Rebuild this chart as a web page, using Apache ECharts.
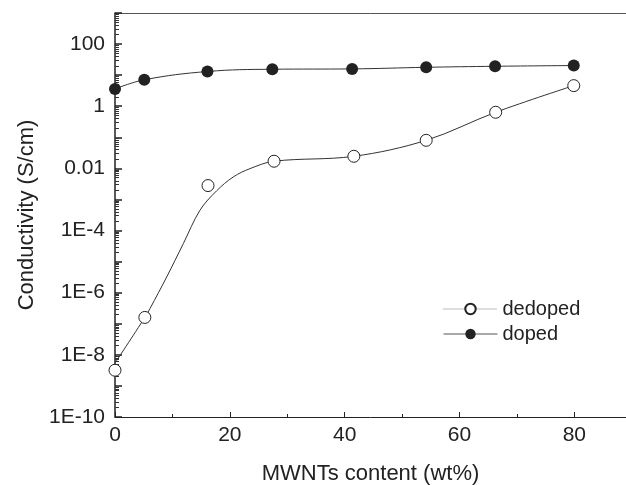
<!DOCTYPE html>
<html>
<head>
<meta charset="utf-8">
<script src="https://cdn.jsdelivr.net/npm/echarts@6/dist/echarts.min.js"></script>
<style>
  html, body { margin: 0; padding: 0; background: #fff; }
  #main { width: 626px; height: 485px; }
</style>
</head>
<body>
<div id="main"></div>
<script>
// MWNTs content (wt%) and conductivity (S/cm)
const dedopedX = [0, 5.2, 16.2, 27.7, 41.6, 54.2, 66.3, 79.9];
const dedopedY = [3.2e-9, 1.6e-7, 2.8e-3, 0.017, 0.0245, 0.08, 0.64, 4.6];
const dopedX = [0, 5.1, 16.1, 27.4, 41.3, 54.2, 66.2, 79.9];
const dopedY = [3.6, 7.1, 13.1, 15.5, 15.9, 17.9, 19.3, 20.4];
// fitted curve drawn through the dedoped points
const fitX = [0, 5.2, 6.1, 9.0, 11.9, 14.8, 17.7, 20.6, 23.5, 27.7, 41.6, 54.2, 66.3, 79.9];
const fitY = [5.4e-9, 1.6e-7, 3.1e-7, 3.2e-6, 3.8e-5, 4.5e-4, 1.9e-3, 5.3e-3, 9.8e-3, 0.017, 0.0245, 0.08, 0.64, 4.6];
const xTicks = [0, 20, 40, 60, 80];

const pair = (xs, ys) => xs.map((x, i) => [x, ys[i]]);
const font = 'Liberation Sans, Arial, sans-serif';
const ink = '#222';

function logLabel (v) {
  const e = Math.round(Math.log10(v));
  if (e % 2 !== 0 || e > 2) return '';
  if (e >= 0) return String(Math.pow(10, e));
  if (e === -2) return '0.01';
  return '1E' + e;
}

const chart = echarts.init(document.getElementById('main'));
const option = {
  backgroundColor: '#fff',
  animation: false,
  grid: { left: 115, top: 13, right: 0, bottom: 68, containLabel: false, outerBoundsMode: 'none' },
  legend: {
    orient: 'vertical',
    left: 438,
    top: 294,
    itemWidth: 54,
    itemHeight: 13,
    itemGap: 5,
    textStyle: { fontFamily: font, fontSize: 20, color: ink },
    data: [
      { name: 'dedoped', lineStyle: { opacity: 1, type: 'dotted', color: '#777', width: 1 } },
      { name: 'doped', lineStyle: { color: '#555', width: 1 } }
    ]
  },
  xAxis: [{
    type: 'value',
    min: 0,
    max: 89,
    interval: 20,
    name: 'MWNTs content (wt%)',
    nameLocation: 'middle',
    nameGap: 46,
    nameTextStyle: { fontFamily: font, fontSize: 22, color: ink },
    axisLine: { lineStyle: { color: ink, width: 1 } },
    axisTick: { inside: true, length: 5, lineStyle: { color: ink } },
    minorTick: { show: true, splitNumber: 2, length: 3, lineStyle: { color: ink } },
    axisLabel: {
      margin: 8, fontFamily: font, fontSize: 21, color: ink,
      showMaxLabel: false,
      formatter: v => (xTicks.indexOf(v) >= 0 ? String(v) : '')
    },
    splitLine: { show: false }
  }, {
    type: 'value',
    position: 'top',
    min: 0,
    max: 89,
    axisLine: { show: true, onZero: false, lineStyle: { color: '#555', width: 1 } },
    axisTick: { show: false },
    axisLabel: { show: false },
    splitLine: { show: false }
  }],
  yAxis: {
    type: 'log',
    logBase: 10,
    min: 1e-10,
    max: 1000,
    interval: 1,
    name: 'Conductivity (S/cm)',
    nameLocation: 'middle',
    nameGap: 76,
    nameTextStyle: { fontFamily: font, fontSize: 22, color: ink },
    axisLine: { show: true, lineStyle: { color: ink, width: 1.5 } },
    axisTick: { inside: true, length: 7, lineStyle: { color: ink, width: 1.5 } },
    minorTick: { show: true, splitNumber: 9, length: 4, lineStyle: { color: '#333', width: 1 } },
    axisLabel: { margin: 10, fontFamily: font, fontSize: 21, color: ink, formatter: logLabel },
    splitLine: { show: false }
  },
  series: [
    {
      name: 'fit',
      type: 'line',
      data: pair(fitX, fitY),
      smooth: 0.35,
      showSymbol: false,
      lineStyle: { color: '#333', width: 1 },
      z: 1
    },
    {
      name: 'dedoped',
      type: 'line',
      data: pair(dedopedX, dedopedY),
      symbol: 'circle',
      symbolSize: 12,
      lineStyle: { opacity: 0 },
      itemStyle: { color: '#fff', borderColor: ink, borderWidth: 1 },
      z: 3
    },
    {
      name: 'doped',
      type: 'line',
      data: pair(dopedX, dopedY),
      smooth: 0.4,
      symbol: 'circle',
      symbolSize: 12,
      lineStyle: { color: '#333', width: 1 },
      itemStyle: { color: ink },
      z: 3
    }
  ]
};
chart.setOption(option);
</script>
</body>
</html>
